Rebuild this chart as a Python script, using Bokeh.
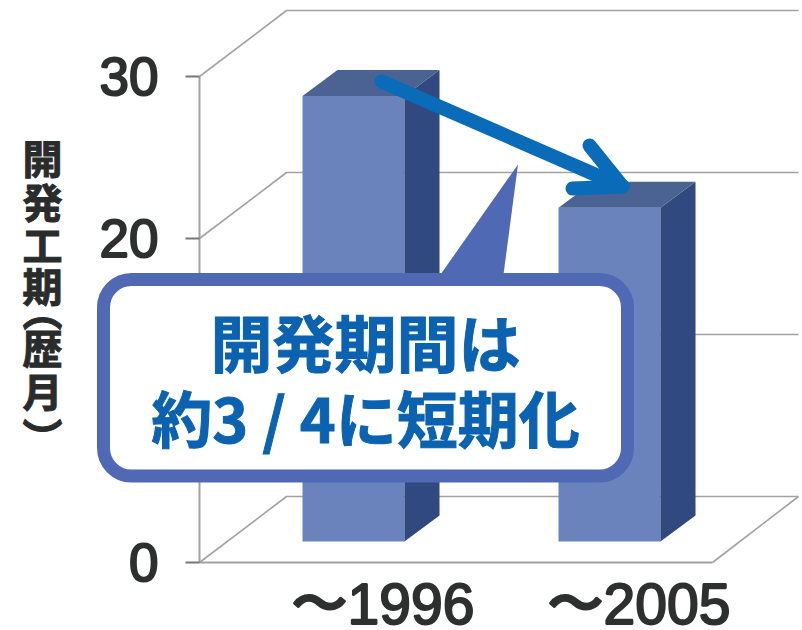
from bokeh.embed import file_html
from bokeh.models import BoxAnnotation, FixedTicker, Label, LinearAxis, PolyAnnotation, Range1d
from bokeh.plotting import figure
from bokeh.resources import INLINE

# chart values
CATEGORIES = ["〜1996", "〜2005"]
DURATIONS = [27.5, 20.6]
GRID_LEVELS = [0, 10, 20, 30]
TICK_LABELS = {0: "0", 20: "20", 30: "30"}
AXIS_TITLE = ["開", "発", "工", "期", "︵", "歴", "月", "︶"]
AXIS_TITLE_ROWS = [156, 200, 243, 284, 308, 346, 389, 435]
CALLOUT = ["開発期間は", "約3 / 4に短期化"]

# canvas and pixel scales
W, H = 802, 630
LEFT, BOTTOM = 199, 562
PX_PER_CAT, PX_PER_UNIT = 256.0, 16.2
X1_PX = 382


def px_x(px):
    return 1 + (px - X1_PX) / PX_PER_CAT


def px_y(px):
    return (BOTTOM - px) / PX_PER_UNIT


# oblique projection of the chart box and of the columns
BOX_DX, BOX_DY = px_x(286) - px_x(199), 66 / PX_PER_UNIT
BAR_DX, BAR_DY = 35 / PX_PER_CAT, 26 / PX_PER_UNIT
BAR_SHIFT, BAR_HALF = -29 / PX_PER_CAT, 51 / PX_PER_CAT
BAR_LIFT = 21 / PX_PER_UNIT

p = figure(
    width=W, height=H, output_backend="svg", toolbar_location=None,
    x_range=Range1d(px_x(0), px_x(W)), y_range=Range1d(px_y(H), px_y(0)),
    x_axis_type=None, y_axis_type=None,
    min_border=0,
)
p.outline_line_color = None

# left wall axis, placed inside the canvas
GREY = "#a2a2a2"
TEXT = "#2e3030"
ya = LinearAxis(
    fixed_location=px_x(LEFT),
    ticker=FixedTicker(ticks=list(TICK_LABELS)),
    major_label_overrides=TICK_LABELS,
    bounds=(0, 30),
    axis_line_color=GREY, axis_line_width=2,
    major_tick_line_color="#777777", major_tick_line_width=2,
    major_tick_out=14, major_tick_in=0,
    minor_tick_line_color=None,
    major_label_standoff=27,
    major_label_text_font="Liberation Sans",
    major_label_text_font_size="53px",
    major_label_text_color=TEXT,
    major_label_text_outline_color=TEXT,
)
p.add_layout(ya, "left")

# floor front edge and category labels
xa = LinearAxis(
    fixed_location=0,
    ticker=FixedTicker(ticks=[1, 2]),
    major_label_overrides={1: CATEGORIES[0], 2: CATEGORIES[1]},
    bounds=(px_x(LEFT), px_x(712)),
    axis_line_color=GREY, axis_line_width=2,
    major_tick_line_color=None, minor_tick_line_color=None,
    major_label_standoff=3,
    major_label_text_font="Liberation Sans",
    major_label_text_font_size="57px",
    major_label_text_line_height=1.0,
    major_label_text_color=TEXT,
    major_label_text_outline_color=TEXT,
)
p.add_layout(xa, "below")

# box wall lines: diagonal on the left wall, horizontal on the back wall
x0, x_back, x_end = px_x(LEFT), px_x(286), px_x(798)
for level in GRID_LEVELS:
    p.line([x0, x_back, x_end], [level, level + BOX_DY, level + BOX_DY],
           line_color=GREY, line_width=1.6)
p.line([x_end, px_x(712)], [BOX_DY, 0], line_color=GREY, line_width=1.6)

# columns
centers = [i + 1 + BAR_SHIFT for i in range(len(DURATIONS))]
lefts = [c - BAR_HALF for c in centers]
rights = [c + BAR_HALF for c in centers]
tops = [BAR_LIFT + v for v in DURATIONS]
bottoms = [BAR_LIFT] * len(DURATIONS)

p.quad(left=lefts, right=rights, top=tops, bottom=bottoms,
       fill_color="#6b83bd", line_color=None)
p.patches(
    [[r, r + BAR_DX, r + BAR_DX, r] for r in rights],
    [[b, b + BAR_DY, t + BAR_DY, t] for b, t in zip(bottoms, tops)],
    fill_color="#30497f", line_color=None,
)
p.patches(
    [[l, r, r + BAR_DX, l + BAR_DX] for l, r in zip(lefts, rights)],
    [[t, t, t + BAR_DY, t + BAR_DY] for t in tops],
    fill_color="#4a6393", line_color=None,
)

# arrow from the first column's top down to the second column's top
ARROW = "#0a6cb8"
tip_x, tip_y = px_x(622), px_y(186)
p.multi_line(
    [[px_x(381), tip_x], [px_x(589), tip_x], [px_x(572), tip_x]],
    [[px_y(81), tip_y], [px_y(145), tip_y], [px_y(188), tip_y]],
    line_color=ARROW, line_width=14, line_cap="round", line_join="round",
)

# speech bubble
BLUE = "#4f69b5"
p.add_layout(PolyAnnotation(
    xs=[px_x(440), px_x(517.5), px_x(503)],
    ys=[px_y(274), px_y(164), px_y(274)],
    fill_color=BLUE, fill_alpha=1, line_color=None,
))
p.add_layout(BoxAnnotation(
    left=px_x(103), right=px_x(627), top=px_y(279), bottom=px_y(475.5),
    border_radius=28, fill_color="#ffffff", fill_alpha=1,
    line_color=BLUE, line_alpha=1, line_width=13,
))
for text, py, size in zip(CALLOUT, [340, 416], ["62px", "61px"]):
    p.add_layout(Label(
        x=px_x(365), y=px_y(py), text=text, text_align="center",
        text_baseline="middle", text_font="Noto Sans CJK JP",
        text_font_style="bold", text_font_size=size, text_color="#0a62b0",
        text_outline_color="#0a62b0",
    ))

# stacked value-axis title
for text, py in zip(AXIS_TITLE, AXIS_TITLE_ROWS):
    p.add_layout(Label(
        x=px_x(42), y=px_y(py), text=text, text_align="center",
        text_baseline="middle", text_font="Noto Sans CJK JP",
        text_font_style="bold", text_font_size="40px", text_color="#2a2c2c",
        text_outline_color="#2a2c2c",
    ))

open("out.html", "w").write(file_html(p, INLINE))
